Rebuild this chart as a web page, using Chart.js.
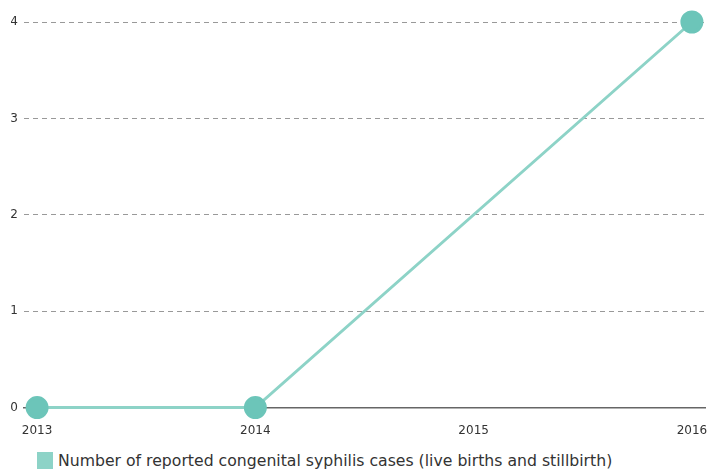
<!DOCTYPE html>
<html>
<head>
<meta charset="utf-8">
<script src="https://cdn.jsdelivr.net/npm/chart.js@4/dist/chart.umd.min.js"></script>
<style>
  html, body { margin: 0; padding: 0; background: #fff; }
  #wrap { position: relative; width: 710px; height: 445px; }
  #legend { position: absolute; left: 37px; top: 452px; height: 17px; font-family: "DejaVu Sans", sans-serif; font-size: 15.7px; color: #333; display: flex; align-items: center; white-space: nowrap; }
  #legend .box { width: 16px; height: 17px; background: #8dd3c7; margin-right: 5px; }
</style>
</head>
<body>
<div id="wrap"><canvas id="c" width="710" height="445"></canvas></div>
<div id="legend"><span class="box"></span><span id="legendText"></span></div>
<script>
const years = [2013, 2014, 2015, 2016];
const cases = [0, 0, null, 4];
const yTicks = [0, 1, 2, 3, 4];
const seriesLabel = "Number of reported congenital syphilis cases (live births and stillbirth)";

document.getElementById('legendText').textContent = seriesLabel;

const points = years.map((y, i) => ({ x: y, y: cases[i] }));

new Chart(document.getElementById('c'), {
  type: 'line',
  data: {
    datasets: [{
      label: seriesLabel,
      data: points,
      borderColor: '#8dd3c7',
      backgroundColor: '#6cc5b9',
      pointBackgroundColor: '#6cc5b9',
      pointBorderColor: '#6cc5b9',
      pointRadius: 10,
      pointHoverRadius: 10,
      borderWidth: 3,
      spanGaps: true,
      tension: 0,
      clip: false
    }]
  },
  options: {
    responsive: false,
    animation: false,
    layout: { autoPadding: false, padding: { left: 11, right: 5, top: 22, bottom: 7 } },
    plugins: { legend: { display: false }, tooltip: { enabled: false } },
    scales: {
      x: {
        type: 'linear',
        min: 2012.94,
        max: 2016.06,
        afterBuildTicks: (axis) => { axis.ticks = years.map(v => ({ value: v })); },
        afterFit: (axis) => { axis.paddingLeft = 0; axis.paddingRight = 0; },
        ticks: {
          callback: (v) => String(v),
          font: { family: 'DejaVu Sans', size: 12 },
          color: '#333',
          padding: 0,
          maxRotation: 0,
          autoSkip: false
        },
        grid: { display: true, drawOnChartArea: false, drawTicks: true, tickLength: 16, tickColor: 'rgba(0,0,0,0)' },
        border: { display: true, color: '#666', width: 1.5 }
      },
      y: {
        min: 0,
        max: 4,
        afterBuildTicks: (axis) => { axis.ticks = yTicks.map(v => ({ value: v })); },
        afterFit: (axis) => { axis.width = 13; },
        ticks: {
          font: { family: 'DejaVu Sans', size: 12 },
          color: '#333',
          padding: 6
        },
        grid: {
          drawTicks: false,
          color: (ctx) => (ctx.tick && ctx.tick.value === 0) ? 'rgba(0,0,0,0)' : '#999',
          lineWidth: 1
        },
        border: { display: false, dash: [5, 4] }
      }
    }
  }
});
</script>
</body>
</html>
